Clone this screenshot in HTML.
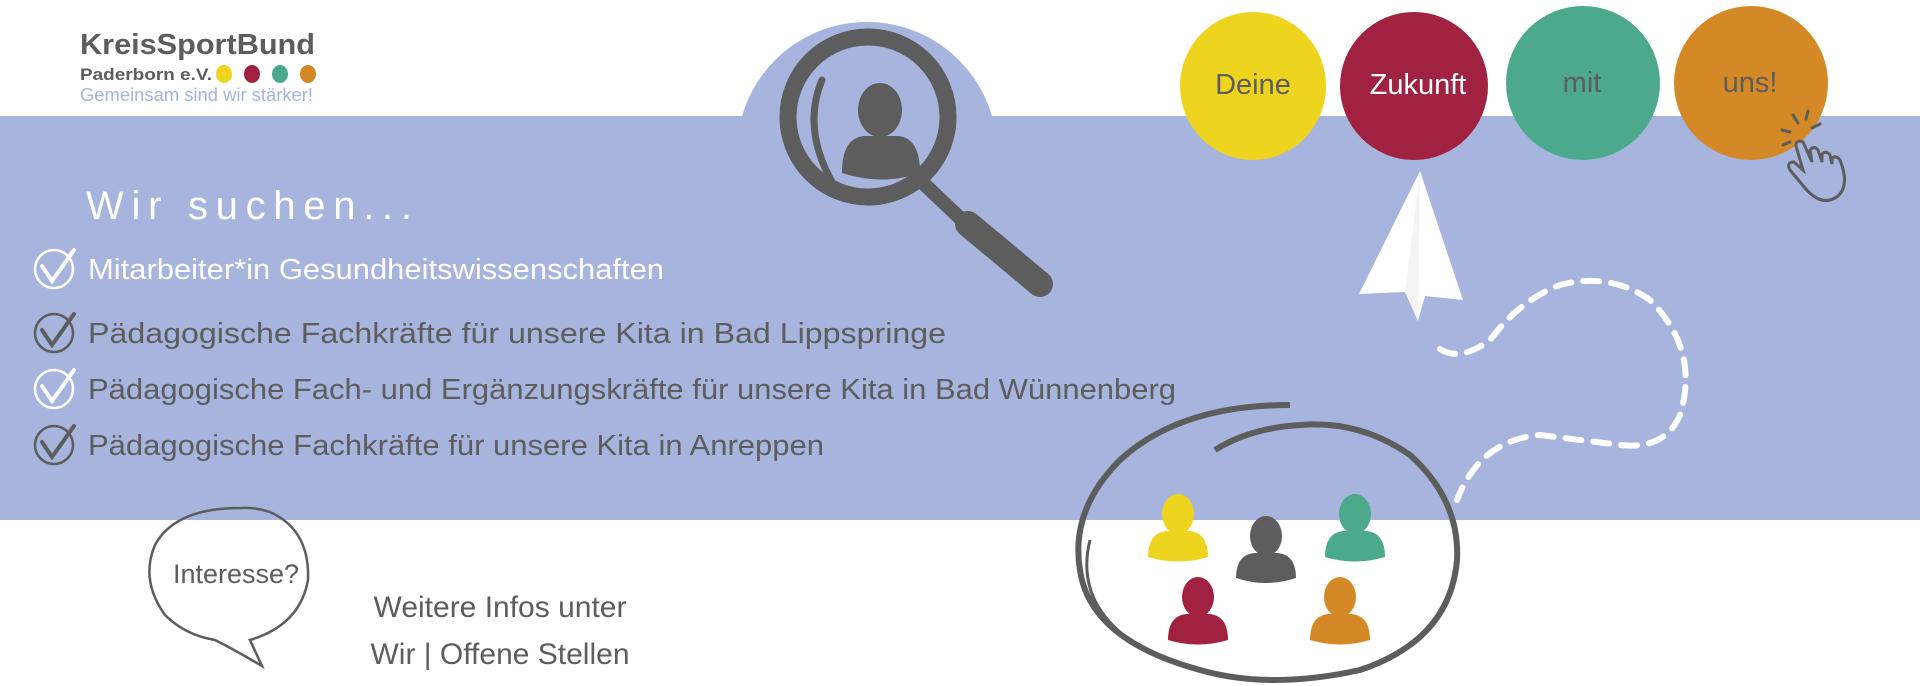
<!DOCTYPE html>
<html><head><meta charset="utf-8"><style>
html,body{margin:0;padding:0;background:#fff;width:1920px;height:686px;overflow:hidden}
svg{display:block}
text{font-family:"Liberation Sans",sans-serif}
</style></head><body>
<svg width="1920" height="686" viewBox="0 0 1920 686" xmlns="http://www.w3.org/2000/svg">
<rect x="0" y="116" width="1920" height="404" fill="#a6b4de"/>
<circle cx="867" cy="152" r="130" fill="#a6b4de"/>
<!-- logo -->
<text x="80" y="54" font-size="29" font-weight="bold" fill="#5d5d5d" textLength="235" lengthAdjust="spacingAndGlyphs">KreisSportBund</text>
<text x="80" y="80" font-size="17" font-weight="bold" fill="#5d5d5d" textLength="132" lengthAdjust="spacingAndGlyphs">Paderborn e.V.</text>
<ellipse cx="224" cy="74" rx="8" ry="9" fill="#efd41f"/>
<ellipse cx="252" cy="74" rx="8" ry="9" fill="#a12141"/>
<ellipse cx="280" cy="74" rx="8" ry="9" fill="#4ca98b"/>
<ellipse cx="308" cy="74" rx="8" ry="9" fill="#d58926"/>
<text x="80" y="101" font-size="18" fill="#a6b4de" textLength="233" lengthAdjust="spacingAndGlyphs">Gemeinsam sind wir stärker!</text>
<!-- magnifier -->
<circle cx="868" cy="117" r="80" fill="none" stroke="#5d5d5d" stroke-width="17"/>
<path d="M822 80 Q802 128 832 182" fill="none" stroke="#5d5d5d" stroke-width="7" stroke-linecap="round"/>
<line x1="922" y1="182" x2="962" y2="220" stroke="#5d5d5d" stroke-width="14"/>
<line x1="968" y1="224" x2="1040" y2="284" stroke="#5d5d5d" stroke-width="26" stroke-linecap="round"/>
<ellipse cx="880" cy="110" rx="22" ry="27" fill="#5d5d5d"/>
<path d="M842 173 Q842 138 864 136 L898 136 Q920 138 920 173 Q882 186 842 173Z" fill="#5d5d5d"/>
<!-- wir suchen -->
<text x="86" y="219" font-size="40" fill="#fff" textLength="326" lengthAdjust="spacing">Wir suchen...</text>
<g font-size="29">
<text x="88" y="279" fill="#fff" textLength="576" lengthAdjust="spacingAndGlyphs">Mitarbeiter*in Gesundheitswissenschaften</text>
<text x="88" y="343" fill="#5d5d5d" textLength="858" lengthAdjust="spacingAndGlyphs">Pädagogische Fachkräfte für unsere Kita in Bad Lippspringe</text>
<text x="88" y="399" fill="#5d5d5d" textLength="1088" lengthAdjust="spacingAndGlyphs">Pädagogische Fach- und Ergänzungskräfte für unsere Kita in Bad Wünnenberg</text>
<text x="88" y="455" fill="#5d5d5d" textLength="736" lengthAdjust="spacingAndGlyphs">Pädagogische Fachkräfte für unsere Kita in Anreppen</text>
</g>
<g fill="none" stroke-width="2.5" stroke-linecap="round">
<g stroke="#fff"><circle cx="54" cy="269" r="19"/><path d="M42 266 L52 281 L74 250" stroke-width="4"/></g>
<g stroke="#5d5d5d"><circle cx="54" cy="333" r="19"/><path d="M42 330 L52 345 L74 314" stroke-width="4"/></g>
<g stroke="#fff"><circle cx="54" cy="389" r="19"/><path d="M42 386 L52 401 L74 370" stroke-width="4"/></g>
<g stroke="#5d5d5d"><circle cx="54" cy="445" r="19"/><path d="M42 442 L52 457 L74 426" stroke-width="4"/></g>
</g>
<!-- circles -->
<ellipse cx="1253" cy="86" rx="73" ry="74" fill="#efd41f"/>
<ellipse cx="1414" cy="86" rx="74" ry="74" fill="#a12141"/>
<ellipse cx="1583" cy="83" rx="77" ry="77" fill="#4ca98b"/>
<ellipse cx="1751" cy="83" rx="77" ry="77" fill="#d58926"/>
<g font-size="29" text-anchor="middle">
<text x="1253" y="94" fill="#5d5d5d">Deine</text>
<text x="1418" y="94" fill="#fff">Zukunft</text>
<text x="1582" y="92" fill="#5d5d5d">mit</text>
<text x="1750" y="92" fill="#5d5d5d">uns!</text>
</g>
<!-- hand -->
<g fill="none" stroke="#5d5d5d" stroke-width="3" stroke-linecap="round">
<path d="M1798 123 l-5 -8 M1806 119 l2 -8 M1790 132 l-8 -2 M1812 128 l8 -4 M1790 142 l-7 3"/>
<path d="M1805 188 L1790 170 Q1786 162 1794 162 L1803 170 L1796 146 Q1796 139 1803 142 L1812 162 L1810 150 Q1814 145 1818 150 L1822 162 L1822 154 Q1826 150 1830 155 L1832 164 L1832 158 Q1836 155 1840 160 Q1850 185 1838 196 Q1822 208 1805 188Z"/>
</g>
<!-- paper plane -->
<path d="M1420 171 L1359 294 L1405 292 L1418 321 L1425 296 L1463 300 Z" fill="#fff"/>
<path d="M1420 171 L1405 292 L1418 321 Z" fill="#f4f4f4"/>
<!-- dashed path -->
<path d="M1440 349 Q1460 362 1490 340 Q1520 300 1560 285 Q1610 272 1650 300 Q1700 350 1680 415 Q1665 450 1620 445 Q1580 440 1540 435 Q1480 440 1457 500" fill="none" stroke="#fff" stroke-width="6" stroke-dasharray="16 12" stroke-linecap="round"/>
<!-- big ellipse -->
<path d="M1290 405 Q1180 405 1120 460 Q1070 510 1080 570 Q1090 640 1200 670 Q1270 690 1360 670 Q1450 640 1457 560 Q1460 500 1410 455 Q1360 420 1300 425 Q1250 428 1215 450" fill="none" stroke="#5d5d5d" stroke-width="6"/>
<path d="M1090 540 Q1075 600 1130 640" fill="none" stroke="#5d5d5d" stroke-width="3"/>
<g>
<g fill="#efd41f"><ellipse cx="1178" cy="514" rx="16" ry="20"/><path d="M1148 557 Q1148 533 1166 531 L1190 531 Q1208 533 1208 557 Q1178 566 1148 557Z"/></g>
<g fill="#5d5d5d"><ellipse cx="1266" cy="536" rx="16" ry="20"/><path d="M1236 578 Q1236 555 1254 553 L1278 553 Q1296 555 1296 578 Q1266 588 1236 578Z"/></g>
<g fill="#4ca98b"><ellipse cx="1355" cy="514" rx="16" ry="20"/><path d="M1325 557 Q1325 533 1343 531 L1367 531 Q1385 533 1385 557 Q1355 566 1325 557Z"/></g>
<g fill="#a12141"><ellipse cx="1198" cy="597" rx="16" ry="20"/><path d="M1168 640 Q1168 616 1186 614 L1210 614 Q1228 616 1228 640 Q1198 649 1168 640Z"/></g>
<g fill="#d58926"><ellipse cx="1340" cy="597" rx="16" ry="20"/><path d="M1310 640 Q1310 616 1328 614 L1352 614 Q1370 616 1370 640 Q1340 649 1310 640Z"/></g>
</g>
<!-- speech bubble -->
<path d="M240 508 Q175 508 155 545 Q140 580 165 615 Q185 635 215 640 Q235 650 262 666 L250 640 Q300 625 308 580 Q310 530 270 512 Q255 507 240 508Z" fill="none" stroke="#5d5d5d" stroke-width="2.5"/>
<text x="236" y="583" font-size="27" text-anchor="middle" fill="#5d5d5d">Interesse?</text>
<text x="500" y="617" font-size="30" text-anchor="middle" fill="#5d5d5d">Weitere Infos unter</text>
<text x="500" y="664" font-size="30" text-anchor="middle" fill="#5d5d5d">Wir | Offene Stellen</text>
</svg>
</body></html>
